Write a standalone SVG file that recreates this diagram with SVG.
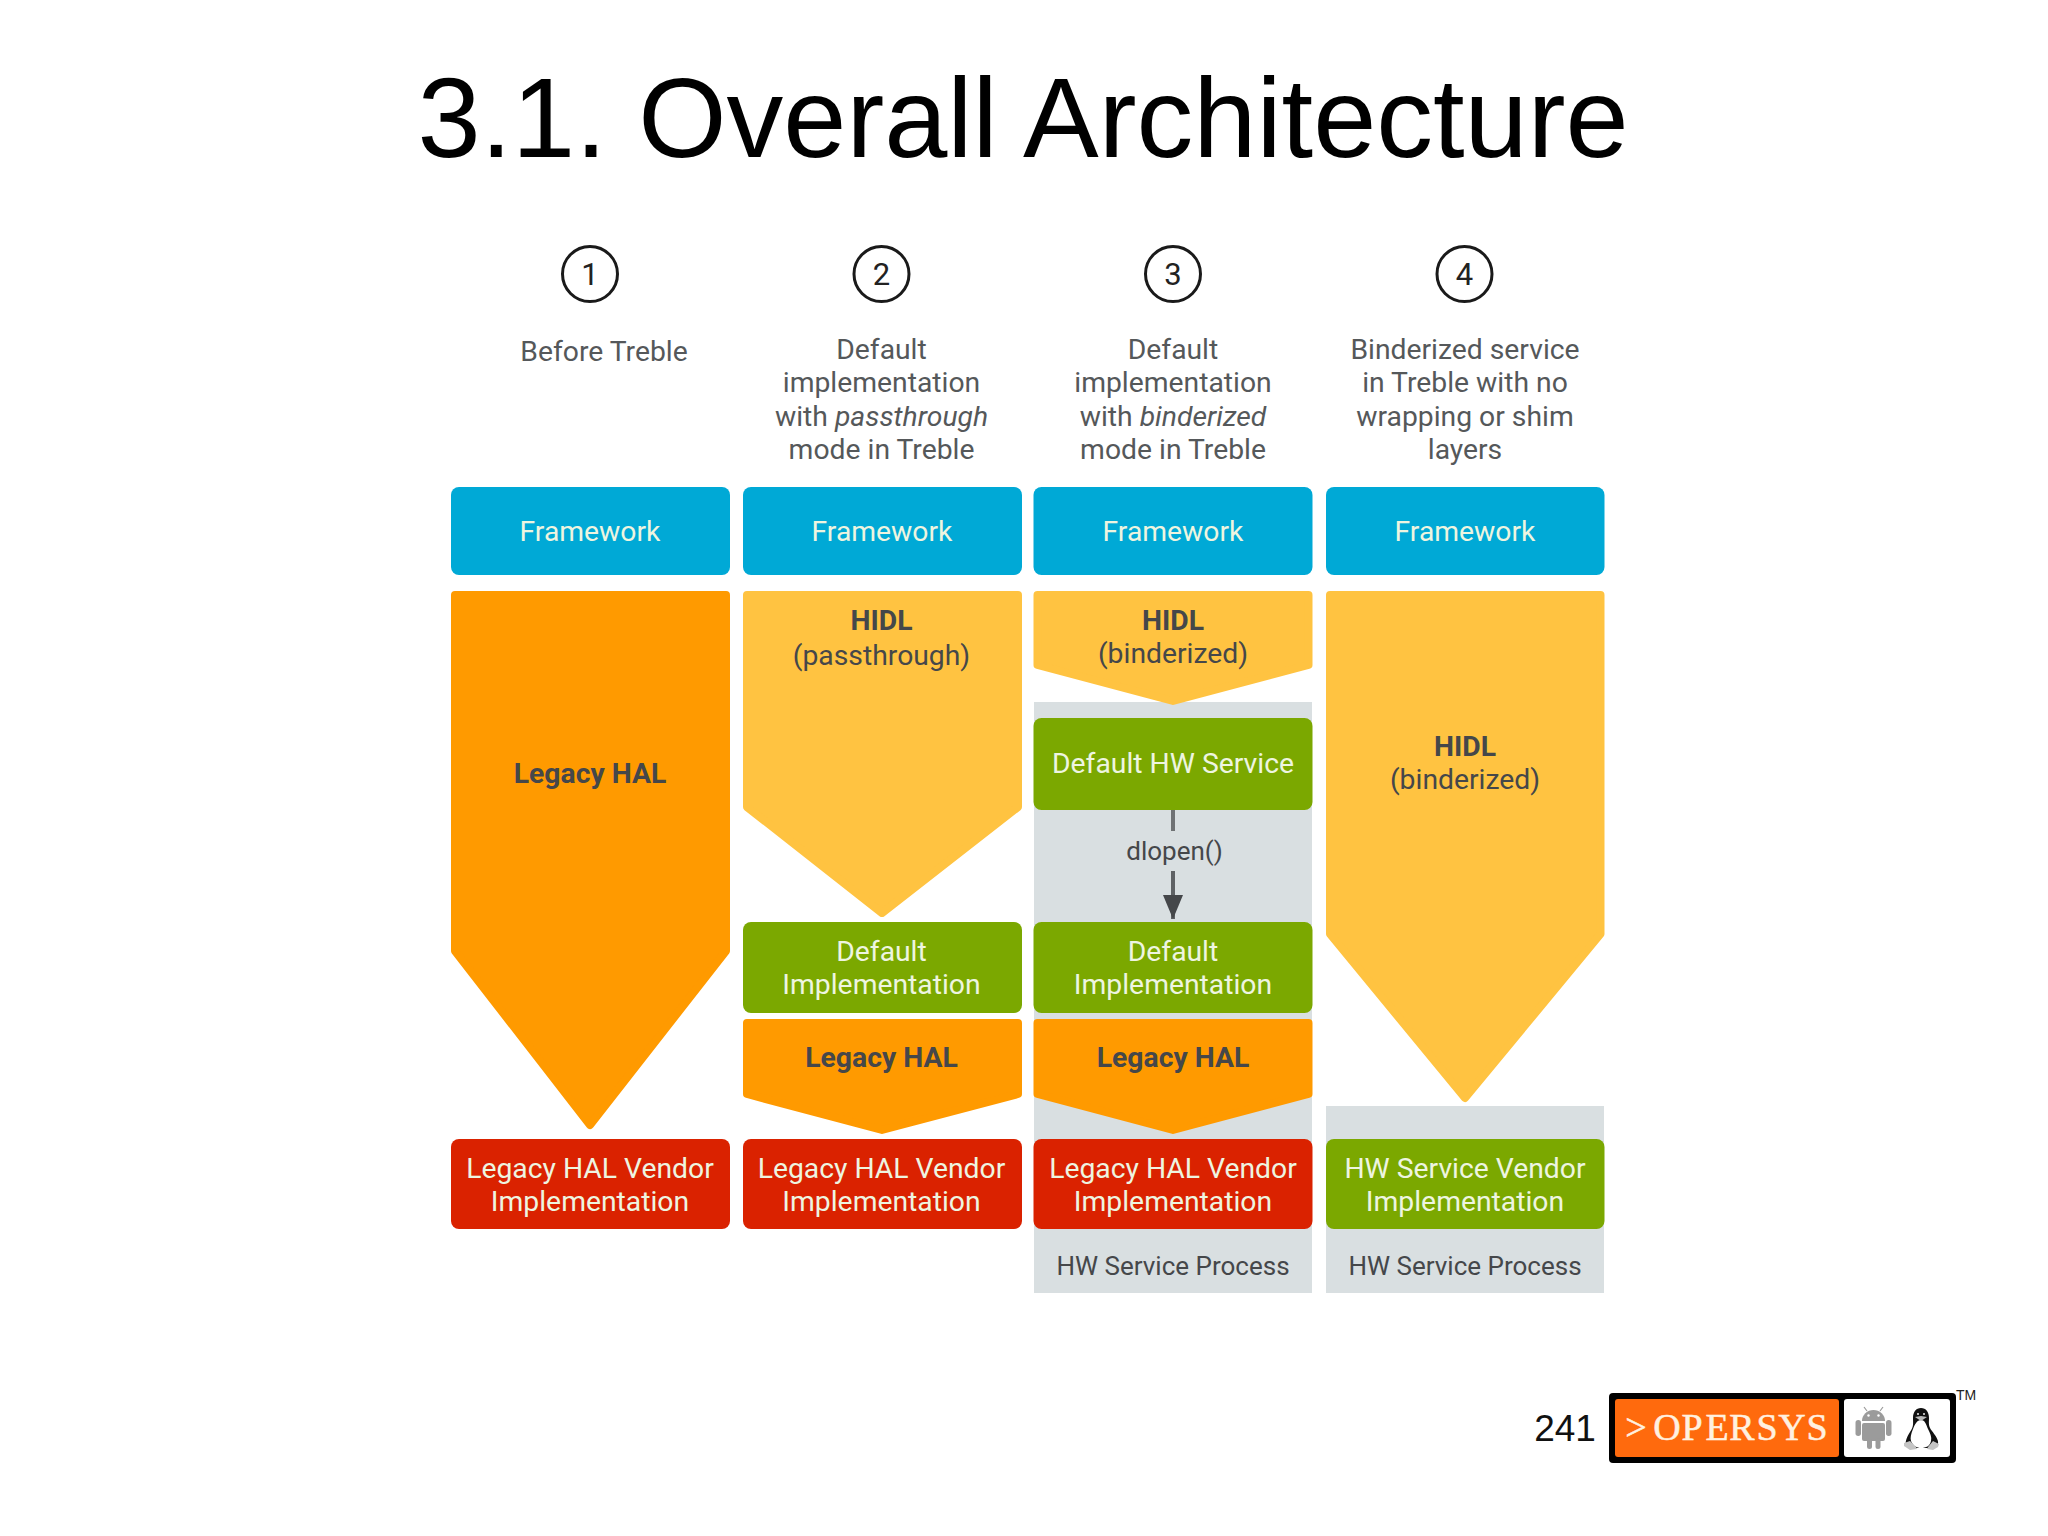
<svg xmlns="http://www.w3.org/2000/svg" width="2048" height="1536" viewBox="0 0 2048 1536">
<defs><style>
text{font-family:Roboto,"Liberation Sans",sans-serif;font-size:28.300px;text-anchor:middle}
.title{font-family:"Liberation Sans",Arial,sans-serif;font-size:113.500px;fill:#000}
.cap{fill:#55585a}
.num{fill:#222;font-size:31px}
.w{fill:#eef5e0}
.d{fill:#45474a}
.b{font-weight:700}
.small{font-size:26px}
.fw{fill:#00a9d6}
.lg{fill:#ff9a00}
.hd{fill:#ffc341}
.gr{fill:#7ba800}
.re{fill:#da2200}
.bg{fill:#d9dfe1}
.c{fill:#fff;stroke:#1a1a1a;stroke-width:3}
.j{stroke-linejoin:round;stroke-width:8}
.lg.j{stroke:#ff9a00}.hd.j{stroke:#ffc341}
.logo{font-family:"Liberation Serif",serif;font-size:38px;fill:#fff1e0;stroke:#fff1e0;stroke-width:.5}
</style>
<marker id="arr" markerWidth="24" markerHeight="20" refX="24" refY="10" orient="auto" markerUnits="userSpaceOnUse"><path d="M0 0L24 10L0 20Z" fill="#45474a"/></marker>
</defs>
<rect width="2048" height="1536" fill="#fff"/>
<text class="title" x="1023" y="157">3.1. Overall Architecture</text>
<g id="backgrounds"><rect class="bg" x="1034" y="702" width="278" height="591"/><rect class="bg" x="1326" y="1106" width="278" height="187"/></g>
<g id="col1">
<circle class="c" cx="590" cy="274" r="27.5"/><text class="num" x="590" y="285">1</text>
<text class="cap" x="604" y="361">Before Treble</text>
<rect class="fw" x="451" y="487" width="279" height="88" rx="8"/><text class="w" x="590" y="541">Framework</text>
<path class="lg j" d="M455 595H726V951L590 1125L455 951Z"/><text class="d b" x="590" y="783">Legacy HAL</text>
<rect class="re" x="451" y="1139" width="279" height="90" rx="8"/><text class="w" x="590" y="1178">Legacy HAL Vendor</text><text class="w" x="590" y="1211">Implementation</text>
</g>
<g id="col2">
<circle class="c" cx="881.500" cy="274" r="27.5"/><text class="num" x="881.500" y="285">2</text>
<text class="cap" x="881.500" y="359">Default</text><text class="cap" x="881.500" y="392">implementation</text><text class="cap" x="881.500" y="426">with <tspan font-style="italic">passthrough</tspan></text><text class="cap" x="881.500" y="459">mode in Treble</text>
<rect class="fw" x="743" y="487" width="279" height="88" rx="8"/><text class="w" x="882" y="541">Framework</text>
<path class="hd j" d="M747 595H1018V807L882 913L747 807Z"/><text class="d b" x="881.500" y="630">HIDL</text><text class="d" x="881.500" y="665">(passthrough)</text>
<rect class="gr" x="743" y="922" width="279" height="91" rx="8"/><text class="w" x="881.500" y="961">Default</text><text class="w" x="881.500" y="994">Implementation</text>
<path class="lg j" d="M747 1023H1018V1094L882 1130L747 1094Z"/><text class="d b" x="881.500" y="1067">Legacy HAL</text>
<rect class="re" x="743" y="1139" width="279" height="90" rx="8"/><text class="w" x="881.500" y="1178">Legacy HAL Vendor</text><text class="w" x="881.500" y="1211">Implementation</text>
</g>
<g id="col3">
<circle class="c" cx="1173" cy="274" r="27.5"/><text class="num" x="1173" y="285">3</text>
<text class="cap" x="1173" y="359">Default</text><text class="cap" x="1173" y="392">implementation</text><text class="cap" x="1173" y="426">with <tspan font-style="italic">binderized</tspan></text><text class="cap" x="1173" y="459">mode in Treble</text>
<rect class="fw" x="1033.500" y="487" width="279" height="88" rx="8"/><text class="w" x="1173" y="541">Framework</text>
<path class="hd j" d="M1037.500 595H1308.500V665L1173 701L1037.500 665Z"/><text class="d b" x="1173" y="630">HIDL</text><text class="d" x="1173" y="663">(binderized)</text>
<rect class="gr" x="1033.500" y="718" width="279" height="92" rx="8"/><text class="w" x="1173" y="773">Default HW Service</text>
<rect class="gr" x="1033.500" y="922" width="279" height="91" rx="8"/><text class="w" x="1173" y="961">Default</text><text class="w" x="1173" y="994">Implementation</text>
<path class="lg j" d="M1037.500 1023H1308.500V1094L1173 1130L1037.500 1094Z"/><text class="d b" x="1173" y="1067">Legacy HAL</text>
<rect class="re" x="1033.500" y="1139" width="279" height="90" rx="8"/><text class="w" x="1173" y="1178">Legacy HAL Vendor</text><text class="w" x="1173" y="1211">Implementation</text>
<text class="d small" x="1173" y="1275">HW Service Process</text>
</g>
<g id="col4">
<circle class="c" cx="1464.500" cy="274" r="27.5"/><text class="num" x="1464.500" y="285">4</text>
<text class="cap" x="1465" y="359">Binderized service</text><text class="cap" x="1465" y="392">in Treble with no</text><text class="cap" x="1465" y="426">wrapping or shim</text><text class="cap" x="1465" y="459">layers</text>
<rect class="fw" x="1326" y="487" width="278.500" height="88" rx="8"/><text class="w" x="1465" y="541">Framework</text>
<path class="hd j" d="M1330 595H1600.500V934L1465 1098L1330 934Z"/><text class="d b" x="1465" y="756">HIDL</text><text class="d" x="1465" y="789">(binderized)</text>
<rect class="gr" x="1326" y="1139" width="278.500" height="90" rx="8"/><text class="w" x="1465" y="1178">HW Service Vendor</text><text class="w" x="1465" y="1211">Implementation</text>
<text class="d small" x="1465" y="1275">HW Service Process</text>
</g>
<g id="connectors">
<path d="M1173 810V831" stroke="#6f7274" stroke-width="4" fill="none"/>
<path d="M1173 871V919" stroke="#5f6265" stroke-width="4" fill="none" marker-end="url(#arr)"/>
</g>
<text class="d small" x="1174.500" y="860">dlopen()</text>
<g id="footer">
<text x="1565" y="1441" style="font-family:'Liberation Sans',sans-serif;font-size:37px;fill:#111">241</text>
<rect x="1609" y="1393" width="347" height="70" rx="4" fill="#000"/>
<rect x="1615" y="1399" width="224" height="58" rx="3" fill="#ff6a0d"/>
<rect x="1844" y="1399" width="106" height="58" rx="3" fill="#fff"/>
<text class="logo" y="1440" x="1636 1667 1692 1717 1742 1767 1792 1817">&gt;OPERSYS</text>
<text x="1966" y="1400" style="font-family:'Liberation Sans',sans-serif;font-size:14px;fill:#222">TM</text>
<g id="android" fill="#9b9b9b">
<path d="M1862 1421a11.500 11 0 0 1 23 0Z"/><rect x="1862" y="1423" width="23" height="18" rx="2"/><rect x="1855.500" y="1420" width="5.500" height="16" rx="2.700"/><rect x="1886" y="1420" width="5.500" height="16" rx="2.700"/><rect x="1867" y="1438" width="5" height="11" rx="2.500"/><rect x="1875.500" y="1438" width="5" height="11" rx="2.500"/>
<path d="M1867 1411l-3-4M1880 1411l3-4" stroke="#9b9b9b" stroke-width="1.200"/>
<circle cx="1868.500" cy="1415.500" r="1.200" fill="#fff"/><circle cx="1878.500" cy="1415.500" r="1.200" fill="#fff"/>
</g>
<g id="tux">
<path d="M1921 1408c-5 0-8 4-8 10 0 6 1 8-3 14-3 5-5 9-4 13 1 3 4 3 8 3h15c5 0 8-1 9-4 1-4-3-9-6-13-4-5-3-8-3-13 0-6-3-10-8-10Z" fill="#111"/>
<path d="M1921 1420c-4 0-6 4-8 9-2 5-3 9-2 12 2 5 6 7 10 7 5 0 9-2 10-7 1-4-1-8-3-12-2-5-3-9-7-9Z" fill="#fff"/>
<path d="M1915 1417l6-1 6 1-6 4Z" fill="#bbb"/>
<circle cx="1918" cy="1414" r="1" fill="#eee"/><circle cx="1924" cy="1414" r="1" fill="#eee"/>
<path d="M1904 1443l6-2 6 6 1 2-7 1-6-4ZM1939 1444l-6-3-5 6-1 2 6 1 5-3Z" fill="#c4c4c4"/>
</g>
</g>
</svg>
